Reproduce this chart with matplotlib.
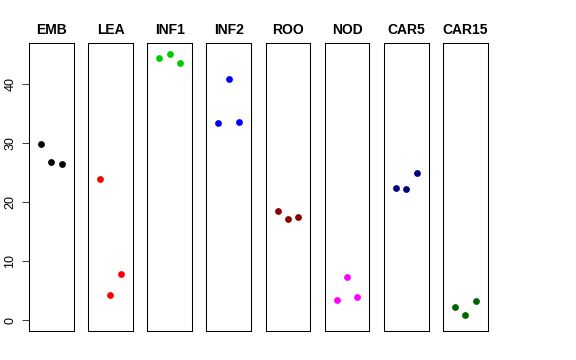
import numpy as np
import matplotlib.pyplot as plt

plt.rcParams["font.family"] = ["Liberation Sans", "DejaVu Sans"]

groups = ["EMB", "LEA", "INF1", "INF2", "ROO", "NOD", "CAR5", "CAR15"]
colors = ["black", "red", "#00CD00", "blue", "#8B0000", "magenta", "#000080", "#006400"]
values = [
    [29.8, 26.7, 26.35],
    [23.9, 4.16, 7.76],
    [44.26, 45.0, 43.5],
    [33.4, 40.7, 33.5],
    [18.5, 17.1, 17.4],
    [3.37, 7.2, 3.88],
    [22.3, 22.1, 24.9],
    [2.2, 0.9, 3.2],
]
yticks = [0, 10, 20, 30, 40]

ymax = max(max(v) for v in values)
pad = 0.04 * ymax

fig, axes = plt.subplots(1, len(groups), figsize=(5.76, 3.6), dpi=100, sharey=True)
fig.subplots_adjust(left=0.0503, right=0.8467, bottom=0.0814, top=0.8797, wspace=0.326)

for i, ax in enumerate(axes):
    ax.scatter([1, 2, 3], values[i], s=24, color=colors[i], linewidths=0, zorder=3)
    ax.set_xlim(-0.16, 4.16)
    ax.set_ylim(-pad, ymax + pad)
    ax.set_xticks([])
    ax.set_title(groups[i], fontsize=10, fontweight="bold", pad=7)
    for s in ax.spines.values():
        s.set_linewidth(0.75)
        s.set_color("black")
    if i == 0:
        ax.set_yticks(yticks)
        ax.tick_params(axis="y", length=5, width=0.75, labelsize=9, pad=4,
                       color="#444444")
        for lab in ax.get_yticklabels():
            lab.set_rotation(90)
            lab.set_va("center")
    else:
        ax.tick_params(axis="y", left=False, labelleft=False)

fig.savefig("out.png", dpi=100)
